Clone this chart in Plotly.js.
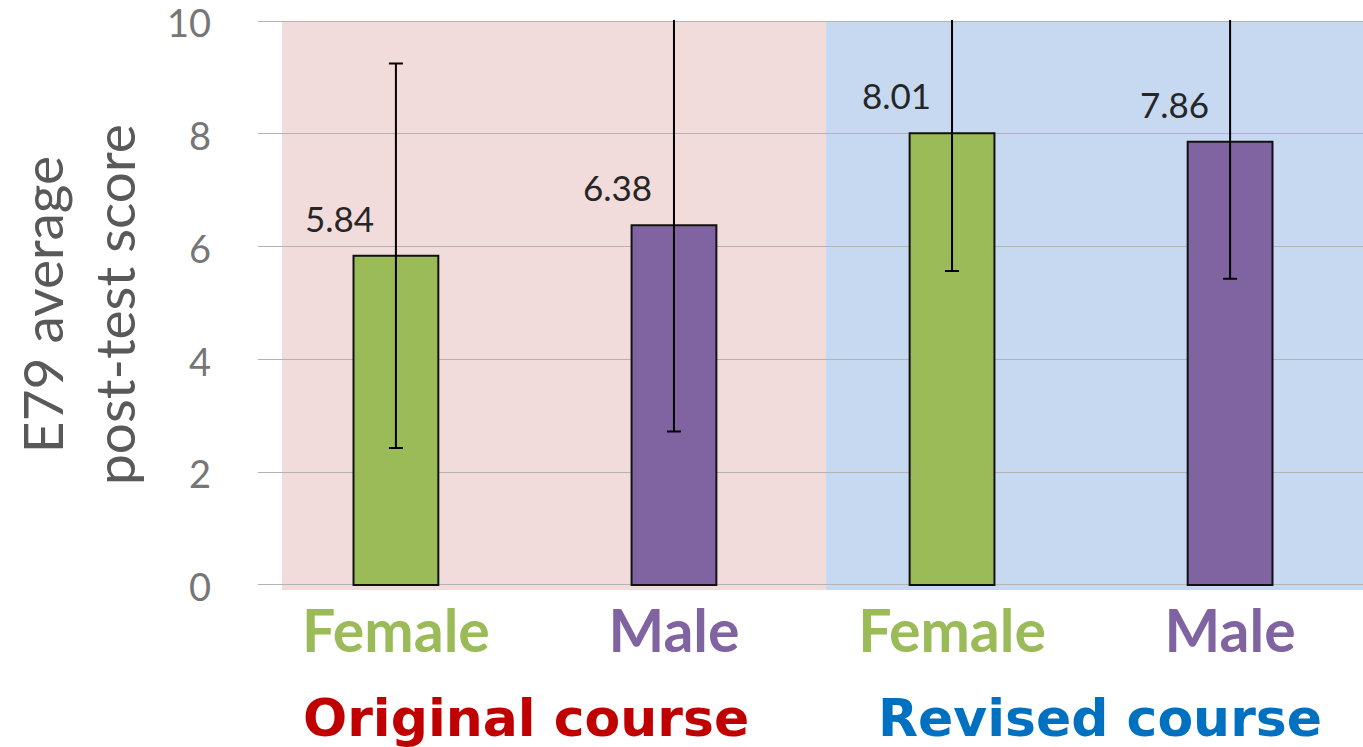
<!DOCTYPE html>
<html>
<head>
<meta charset="utf-8">
<script src="https://cdn.plot.ly/plotly-3.0.1.min.js"></script>
<style>html,body{margin:0;padding:0;background:#fff;}#chart{width:1363px;height:747px;}</style>
</head>
<body>
<div id="chart"></div>
<script>
// Data
const categories = ["Female", "Male", "Female", "Male"];
const scores = [5.84, 6.38, 8.01, 7.86];
const errors = [3.41, 3.66, 2.44, 2.43];
const scoreLabels = ["5.84", "6.38", "8.01", "7.86"];
const groups = ["Original course", "Revised course"];
const yTicks = [0, 2, 4, 6, 8, 10];

const barColors = ["#9bbb59", "#8064a2", "#9bbb59", "#8064a2"];
const groupColors = ["#c00000", "#0070c0"];
const idx = categories.map((_, i) => i);

const trace = {
  type: "bar",
  x: idx,
  y: scores,
  width: 0.305,
  marker: { color: barColors, line: { color: "#111", width: 2 } },
  error_y: { type: "data", array: errors, visible: true, color: "#000", thickness: 2, width: 7 },
  hoverinfo: "skip"
};

const annotations = [];
scores.forEach((v, i) => {
  annotations.push({
    x: i, y: v, xref: "x", yref: "y", text: scoreLabels[i], showarrow: false,
    xshift: -56, yshift: 38, xanchor: "center", yanchor: "middle",
    font: { family: "Lato, sans-serif", size: 35, color: "#262626" }
  });
});
groups.forEach((g, k) => {
  annotations.push({
    x: k * 2 + 0.5, y: 0, xref: "x", yref: "paper", text: "<b>" + g + "</b>", showarrow: false,
    xshift: k === 0 ? -9 : 9, yshift: -128, xanchor: "center", yanchor: "middle",
    font: { family: "DejaVu Sans, sans-serif", size: 52, color: groupColors[k] }
  });
});
annotations.push({
  x: 0, y: 0.5, xref: "paper", yref: "paper", xanchor: "center", yanchor: "middle",
  xshift: -180, text: "E79 average<br>post-test score", showarrow: false, textangle: -90,
  font: { family: "Lato, sans-serif", size: 55, color: "#595959" }
});

const layout = {
  width: 1363, height: 747,
  margin: { l: 258, r: 0, t: 20, b: 157 },
  paper_bgcolor: "#fff", plot_bgcolor: "rgba(0,0,0,0)",
  showlegend: false,
  xaxis: {
    range: [-0.496, 3.478], tickvals: idx,
    ticktext: categories.map((c, i) => '<span style="color:' + barColors[i] + '"><b>' + c + '</b></span>'),
    tickfont: { family: "Lato, sans-serif", size: 59 },
    showgrid: false, zeroline: false, showline: false, ticks: "", ticklabelstandoff: 2
  },
  yaxis: {
    range: [-0.09, 10.02], tickvals: yTicks, ticktext: yTicks.map(String),
    tickfont: { family: "Lato, sans-serif", size: 38, color: "#767676" },
    showgrid: true, gridcolor: "#b3b3b3", gridwidth: 1, zeroline: false, showline: false,
    ticks: "", ticklabelstandoff: 46, ticklabelshift: 3, ticklabeloverflow: "allow"
  },
  shapes: [
    { type: "rect", xref: "x", yref: "y", x0: -0.41, x1: 1.547, y0: -0.09, y1: 10, fillcolor: "#f2dcdb", line: { width: 0 }, layer: "below" },
    { type: "rect", xref: "x", yref: "y", x0: 1.547, x1: 3.478, y0: -0.09, y1: 10, fillcolor: "#c6d9f1", line: { width: 0 }, layer: "below" }
  ],
  annotations: annotations
};

Plotly.newPlot("chart", [trace], layout, { displayModeBar: false, staticPlot: true });
</script>
</body>
</html>
